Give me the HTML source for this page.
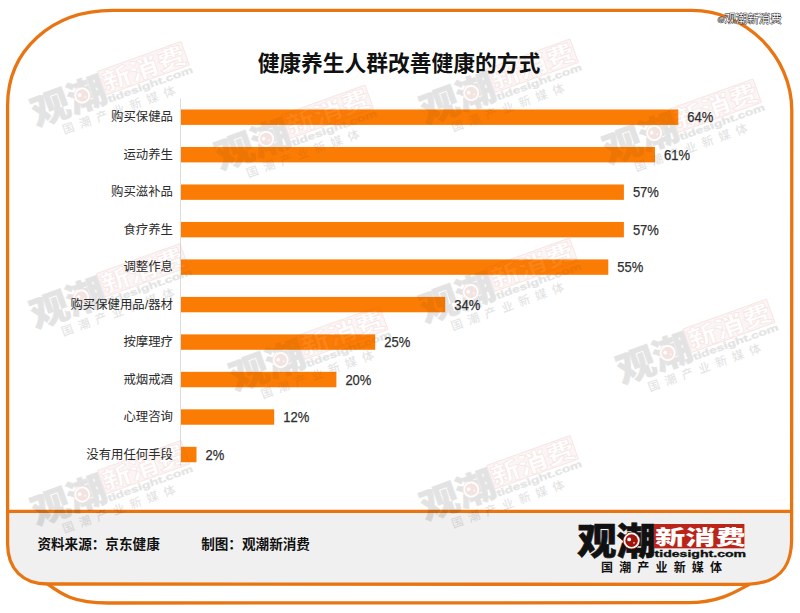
<!DOCTYPE html>
<html lang="zh-CN">
<head>
<meta charset="utf-8">
<title>健康养生人群改善健康的方式</title>
<style>
html,body{margin:0;padding:0;background:#fff;}
body{width:800px;height:613px;overflow:hidden;font-family:"Liberation Sans", "Noto Sans CJK SC", sans-serif;}
svg{display:block;}
svg text{font-family:"Liberation Sans", "Noto Sans CJK SC", sans-serif;}
</style>
</head>
<body>
<svg width="800" height="613" viewBox="0 0 800 613">
<rect width="800" height="613" fill="#fff"/>
<!-- shadow card outline -->
<path d="M47.8 584.2 C 61.7 594.5, 73.9 603, 108 603 L 688 602.7 C 718.7 602.7, 736.1 591.8, 749.5 584.2" fill="none" stroke="#e87512" stroke-width="3.3"/>
<!-- main card -->
<path d="M112.6 10.45 L691.8 10.45 C745.8 10.45 791.8 56.45 791.8 110.45 L791.6 539.4 C791.6 570 776.4 584.4 744.1 584.4 L47.6 584 C22.8 584 7.6 568.8 7.6 544 L7.6 105.45 C7.6 50.35 51.7 10.45 112.6 10.45 Z" fill="#fff"/>
<!-- footer -->
<path d="M7.6 511.4 L791.6 511.4 L791.6 539.4 C791.6 570 776.4 584.4 744.1 584.4 L47.6 584 C22.8 584 7.6 568.8 7.6 544 Z" fill="#f0f0f0"/>
<path d="M112.6 10.45 L691.8 10.45 C745.8 10.45 791.8 56.45 791.8 110.45 L791.6 539.4 C791.6 570 776.4 584.4 744.1 584.4 L47.6 584 C22.8 584 7.6 568.8 7.6 544 L7.6 105.45 C7.6 50.35 51.7 10.45 112.6 10.45 Z" fill="none" stroke="#e87512" stroke-width="3.3"/>
<line x1="7.6" y1="511.4" x2="791.6" y2="511.4" stroke="#e87512" stroke-width="3.2"/>
<!-- watermarks (under bars) -->
<g transform="translate(27 98) rotate(-19.8) scale(0.985)" opacity="0.052">
<text x="-0.7" y="30.8" font-weight="900" font-size="37" textLength="78.6" lengthAdjust="spacingAndGlyphs" fill="#111" stroke="#111" stroke-width="0.6">观潮</text>
<circle cx="53.6" cy="16.6" r="8.7" fill="#a81a12"/>
<circle cx="53.6" cy="16.6" r="8" fill="#fff"/>
<circle cx="53.6" cy="16.6" r="6.3" fill="#a11409"/>
<circle cx="51.2" cy="15.4" r="1.9" fill="#fff"/>
<circle cx="56" cy="18.8" r="0.9" fill="#f3c9c0"/>
<rect x="76.5" y="-1" width="90" height="25.3" fill="#bb2418" fill-opacity="0.35" stroke="#bb2418" stroke-width="0.9"/>
<text x="77.8" y="20.9" font-weight="900" font-size="24" textLength="88" lengthAdjust="spacingAndGlyphs" fill="#fff" stroke="#bb2418" stroke-width="0.7">新消费</text>
<text x="76.6" y="32.7" font-family='"Liberation Sans", sans-serif' font-weight="bold" font-size="9.6" textLength="91.5" lengthAdjust="spacingAndGlyphs" fill="#111" stroke="#111" stroke-width="0.35">tidesight.com</text>
<text x="23" y="47.5" font-weight="500" font-size="12" textLength="121" lengthAdjust="spacing" fill="#111">国潮产业新媒体</text>
</g>
<g transform="translate(416 95.5) rotate(-19.8) scale(0.985)" opacity="0.052">
<text x="-0.7" y="30.8" font-weight="900" font-size="37" textLength="78.6" lengthAdjust="spacingAndGlyphs" fill="#111" stroke="#111" stroke-width="0.6">观潮</text>
<circle cx="53.6" cy="16.6" r="8.7" fill="#a81a12"/>
<circle cx="53.6" cy="16.6" r="8" fill="#fff"/>
<circle cx="53.6" cy="16.6" r="6.3" fill="#a11409"/>
<circle cx="51.2" cy="15.4" r="1.9" fill="#fff"/>
<circle cx="56" cy="18.8" r="0.9" fill="#f3c9c0"/>
<rect x="76.5" y="-1" width="90" height="25.3" fill="#bb2418" fill-opacity="0.35" stroke="#bb2418" stroke-width="0.9"/>
<text x="77.8" y="20.9" font-weight="900" font-size="24" textLength="88" lengthAdjust="spacingAndGlyphs" fill="#fff" stroke="#bb2418" stroke-width="0.7">新消费</text>
<text x="76.6" y="32.7" font-family='"Liberation Sans", sans-serif' font-weight="bold" font-size="9.6" textLength="91.5" lengthAdjust="spacingAndGlyphs" fill="#111" stroke="#111" stroke-width="0.35">tidesight.com</text>
<text x="23" y="47.5" font-weight="500" font-size="12" textLength="121" lengthAdjust="spacing" fill="#111">国潮产业新媒体</text>
</g>
<g transform="translate(211 141.5) rotate(-19.8) scale(0.985)" opacity="0.052">
<text x="-0.7" y="30.8" font-weight="900" font-size="37" textLength="78.6" lengthAdjust="spacingAndGlyphs" fill="#111" stroke="#111" stroke-width="0.6">观潮</text>
<circle cx="53.6" cy="16.6" r="8.7" fill="#a81a12"/>
<circle cx="53.6" cy="16.6" r="8" fill="#fff"/>
<circle cx="53.6" cy="16.6" r="6.3" fill="#a11409"/>
<circle cx="51.2" cy="15.4" r="1.9" fill="#fff"/>
<circle cx="56" cy="18.8" r="0.9" fill="#f3c9c0"/>
<rect x="76.5" y="-1" width="90" height="25.3" fill="#bb2418" fill-opacity="0.35" stroke="#bb2418" stroke-width="0.9"/>
<text x="77.8" y="20.9" font-weight="900" font-size="24" textLength="88" lengthAdjust="spacingAndGlyphs" fill="#fff" stroke="#bb2418" stroke-width="0.7">新消费</text>
<text x="76.6" y="32.7" font-family='"Liberation Sans", sans-serif' font-weight="bold" font-size="9.6" textLength="91.5" lengthAdjust="spacingAndGlyphs" fill="#111" stroke="#111" stroke-width="0.35">tidesight.com</text>
<text x="23" y="47.5" font-weight="500" font-size="12" textLength="121" lengthAdjust="spacing" fill="#111">国潮产业新媒体</text>
</g>
<g transform="translate(599 135.5) rotate(-19.8) scale(0.985)" opacity="0.052">
<text x="-0.7" y="30.8" font-weight="900" font-size="37" textLength="78.6" lengthAdjust="spacingAndGlyphs" fill="#111" stroke="#111" stroke-width="0.6">观潮</text>
<circle cx="53.6" cy="16.6" r="8.7" fill="#a81a12"/>
<circle cx="53.6" cy="16.6" r="8" fill="#fff"/>
<circle cx="53.6" cy="16.6" r="6.3" fill="#a11409"/>
<circle cx="51.2" cy="15.4" r="1.9" fill="#fff"/>
<circle cx="56" cy="18.8" r="0.9" fill="#f3c9c0"/>
<rect x="76.5" y="-1" width="90" height="25.3" fill="#bb2418" fill-opacity="0.35" stroke="#bb2418" stroke-width="0.9"/>
<text x="77.8" y="20.9" font-weight="900" font-size="24" textLength="88" lengthAdjust="spacingAndGlyphs" fill="#fff" stroke="#bb2418" stroke-width="0.7">新消费</text>
<text x="76.6" y="32.7" font-family='"Liberation Sans", sans-serif' font-weight="bold" font-size="9.6" textLength="91.5" lengthAdjust="spacingAndGlyphs" fill="#111" stroke="#111" stroke-width="0.35">tidesight.com</text>
<text x="23" y="47.5" font-weight="500" font-size="12" textLength="121" lengthAdjust="spacing" fill="#111">国潮产业新媒体</text>
</g>
<g transform="translate(26 300) rotate(-19.8) scale(0.985)" opacity="0.052">
<text x="-0.7" y="30.8" font-weight="900" font-size="37" textLength="78.6" lengthAdjust="spacingAndGlyphs" fill="#111" stroke="#111" stroke-width="0.6">观潮</text>
<circle cx="53.6" cy="16.6" r="8.7" fill="#a81a12"/>
<circle cx="53.6" cy="16.6" r="8" fill="#fff"/>
<circle cx="53.6" cy="16.6" r="6.3" fill="#a11409"/>
<circle cx="51.2" cy="15.4" r="1.9" fill="#fff"/>
<circle cx="56" cy="18.8" r="0.9" fill="#f3c9c0"/>
<rect x="76.5" y="-1" width="90" height="25.3" fill="#bb2418" fill-opacity="0.35" stroke="#bb2418" stroke-width="0.9"/>
<text x="77.8" y="20.9" font-weight="900" font-size="24" textLength="88" lengthAdjust="spacingAndGlyphs" fill="#fff" stroke="#bb2418" stroke-width="0.7">新消费</text>
<text x="76.6" y="32.7" font-family='"Liberation Sans", sans-serif' font-weight="bold" font-size="9.6" textLength="91.5" lengthAdjust="spacingAndGlyphs" fill="#111" stroke="#111" stroke-width="0.35">tidesight.com</text>
<text x="23" y="47.5" font-weight="500" font-size="12" textLength="121" lengthAdjust="spacing" fill="#111">国潮产业新媒体</text>
</g>
<g transform="translate(415.5 294.5) rotate(-19.8) scale(0.985)" opacity="0.052">
<text x="-0.7" y="30.8" font-weight="900" font-size="37" textLength="78.6" lengthAdjust="spacingAndGlyphs" fill="#111" stroke="#111" stroke-width="0.6">观潮</text>
<circle cx="53.6" cy="16.6" r="8.7" fill="#a81a12"/>
<circle cx="53.6" cy="16.6" r="8" fill="#fff"/>
<circle cx="53.6" cy="16.6" r="6.3" fill="#a11409"/>
<circle cx="51.2" cy="15.4" r="1.9" fill="#fff"/>
<circle cx="56" cy="18.8" r="0.9" fill="#f3c9c0"/>
<rect x="76.5" y="-1" width="90" height="25.3" fill="#bb2418" fill-opacity="0.35" stroke="#bb2418" stroke-width="0.9"/>
<text x="77.8" y="20.9" font-weight="900" font-size="24" textLength="88" lengthAdjust="spacingAndGlyphs" fill="#fff" stroke="#bb2418" stroke-width="0.7">新消费</text>
<text x="76.6" y="32.7" font-family='"Liberation Sans", sans-serif' font-weight="bold" font-size="9.6" textLength="91.5" lengthAdjust="spacingAndGlyphs" fill="#111" stroke="#111" stroke-width="0.35">tidesight.com</text>
<text x="23" y="47.5" font-weight="500" font-size="12" textLength="121" lengthAdjust="spacing" fill="#111">国潮产业新媒体</text>
</g>
<g transform="translate(225.5 362.5) rotate(-19.8) scale(0.985)" opacity="0.052">
<text x="-0.7" y="30.8" font-weight="900" font-size="37" textLength="78.6" lengthAdjust="spacingAndGlyphs" fill="#111" stroke="#111" stroke-width="0.6">观潮</text>
<circle cx="53.6" cy="16.6" r="8.7" fill="#a81a12"/>
<circle cx="53.6" cy="16.6" r="8" fill="#fff"/>
<circle cx="53.6" cy="16.6" r="6.3" fill="#a11409"/>
<circle cx="51.2" cy="15.4" r="1.9" fill="#fff"/>
<circle cx="56" cy="18.8" r="0.9" fill="#f3c9c0"/>
<rect x="76.5" y="-1" width="90" height="25.3" fill="#bb2418" fill-opacity="0.35" stroke="#bb2418" stroke-width="0.9"/>
<text x="77.8" y="20.9" font-weight="900" font-size="24" textLength="88" lengthAdjust="spacingAndGlyphs" fill="#fff" stroke="#bb2418" stroke-width="0.7">新消费</text>
<text x="76.6" y="32.7" font-family='"Liberation Sans", sans-serif' font-weight="bold" font-size="9.6" textLength="91.5" lengthAdjust="spacingAndGlyphs" fill="#111" stroke="#111" stroke-width="0.35">tidesight.com</text>
<text x="23" y="47.5" font-weight="500" font-size="12" textLength="121" lengthAdjust="spacing" fill="#111">国潮产业新媒体</text>
</g>
<g transform="translate(612.5 355.5) rotate(-19.8) scale(0.985)" opacity="0.052">
<text x="-0.7" y="30.8" font-weight="900" font-size="37" textLength="78.6" lengthAdjust="spacingAndGlyphs" fill="#111" stroke="#111" stroke-width="0.6">观潮</text>
<circle cx="53.6" cy="16.6" r="8.7" fill="#a81a12"/>
<circle cx="53.6" cy="16.6" r="8" fill="#fff"/>
<circle cx="53.6" cy="16.6" r="6.3" fill="#a11409"/>
<circle cx="51.2" cy="15.4" r="1.9" fill="#fff"/>
<circle cx="56" cy="18.8" r="0.9" fill="#f3c9c0"/>
<rect x="76.5" y="-1" width="90" height="25.3" fill="#bb2418" fill-opacity="0.35" stroke="#bb2418" stroke-width="0.9"/>
<text x="77.8" y="20.9" font-weight="900" font-size="24" textLength="88" lengthAdjust="spacingAndGlyphs" fill="#fff" stroke="#bb2418" stroke-width="0.7">新消费</text>
<text x="76.6" y="32.7" font-family='"Liberation Sans", sans-serif' font-weight="bold" font-size="9.6" textLength="91.5" lengthAdjust="spacingAndGlyphs" fill="#111" stroke="#111" stroke-width="0.35">tidesight.com</text>
<text x="23" y="47.5" font-weight="500" font-size="12" textLength="121" lengthAdjust="spacing" fill="#111">国潮产业新媒体</text>
</g>
<g transform="translate(27 497) rotate(-19.8) scale(0.985)" opacity="0.052">
<text x="-0.7" y="30.8" font-weight="900" font-size="37" textLength="78.6" lengthAdjust="spacingAndGlyphs" fill="#111" stroke="#111" stroke-width="0.6">观潮</text>
<circle cx="53.6" cy="16.6" r="8.7" fill="#a81a12"/>
<circle cx="53.6" cy="16.6" r="8" fill="#fff"/>
<circle cx="53.6" cy="16.6" r="6.3" fill="#a11409"/>
<circle cx="51.2" cy="15.4" r="1.9" fill="#fff"/>
<circle cx="56" cy="18.8" r="0.9" fill="#f3c9c0"/>
<rect x="76.5" y="-1" width="90" height="25.3" fill="#bb2418" fill-opacity="0.35" stroke="#bb2418" stroke-width="0.9"/>
<text x="77.8" y="20.9" font-weight="900" font-size="24" textLength="88" lengthAdjust="spacingAndGlyphs" fill="#fff" stroke="#bb2418" stroke-width="0.7">新消费</text>
<text x="76.6" y="32.7" font-family='"Liberation Sans", sans-serif' font-weight="bold" font-size="9.6" textLength="91.5" lengthAdjust="spacingAndGlyphs" fill="#111" stroke="#111" stroke-width="0.35">tidesight.com</text>
<text x="23" y="47.5" font-weight="500" font-size="12" textLength="121" lengthAdjust="spacing" fill="#111">国潮产业新媒体</text>
</g>
<g transform="translate(416 492) rotate(-19.8) scale(0.985)" opacity="0.052">
<text x="-0.7" y="30.8" font-weight="900" font-size="37" textLength="78.6" lengthAdjust="spacingAndGlyphs" fill="#111" stroke="#111" stroke-width="0.6">观潮</text>
<circle cx="53.6" cy="16.6" r="8.7" fill="#a81a12"/>
<circle cx="53.6" cy="16.6" r="8" fill="#fff"/>
<circle cx="53.6" cy="16.6" r="6.3" fill="#a11409"/>
<circle cx="51.2" cy="15.4" r="1.9" fill="#fff"/>
<circle cx="56" cy="18.8" r="0.9" fill="#f3c9c0"/>
<rect x="76.5" y="-1" width="90" height="25.3" fill="#bb2418" fill-opacity="0.35" stroke="#bb2418" stroke-width="0.9"/>
<text x="77.8" y="20.9" font-weight="900" font-size="24" textLength="88" lengthAdjust="spacingAndGlyphs" fill="#fff" stroke="#bb2418" stroke-width="0.7">新消费</text>
<text x="76.6" y="32.7" font-family='"Liberation Sans", sans-serif' font-weight="bold" font-size="9.6" textLength="91.5" lengthAdjust="spacingAndGlyphs" fill="#111" stroke="#111" stroke-width="0.35">tidesight.com</text>
<text x="23" y="47.5" font-weight="500" font-size="12" textLength="121" lengthAdjust="spacing" fill="#111">国潮产业新媒体</text>
</g>
<!-- axis -->
<line x1="180.5" y1="98.5" x2="180.5" y2="466" stroke="#dcdcdc" stroke-width="1"/>
<rect x="181.0" y="109.50" width="497.3" height="15.4" fill="#fb7c04"/>
<rect x="181.0" y="146.98" width="474.0" height="15.4" fill="#fb7c04"/>
<rect x="181.0" y="184.46" width="442.9" height="15.4" fill="#fb7c04"/>
<rect x="181.0" y="221.94" width="442.9" height="15.4" fill="#fb7c04"/>
<rect x="181.0" y="259.42" width="427.3" height="15.4" fill="#fb7c04"/>
<rect x="181.0" y="296.90" width="264.2" height="15.4" fill="#fb7c04"/>
<rect x="181.0" y="334.38" width="194.2" height="15.4" fill="#fb7c04"/>
<rect x="181.0" y="371.86" width="155.4" height="15.4" fill="#fb7c04"/>
<rect x="181.0" y="409.34" width="93.2" height="15.4" fill="#fb7c04"/>
<rect x="181.0" y="446.82" width="15.5" height="15.4" fill="#fb7c04"/>
<!-- watermarks -->
<g transform="translate(27 98) rotate(-19.8) scale(0.985)" opacity="0.058">
<text x="-0.7" y="30.8" font-weight="900" font-size="37" textLength="78.6" lengthAdjust="spacingAndGlyphs" fill="#111" stroke="#111" stroke-width="0.6">观潮</text>
<circle cx="53.6" cy="16.6" r="8.7" fill="#a81a12"/>
<circle cx="53.6" cy="16.6" r="8" fill="#fff"/>
<circle cx="53.6" cy="16.6" r="6.3" fill="#a11409"/>
<circle cx="51.2" cy="15.4" r="1.9" fill="#fff"/>
<circle cx="56" cy="18.8" r="0.9" fill="#f3c9c0"/>
<rect x="76.5" y="-1" width="90" height="25.3" fill="#bb2418" fill-opacity="0.35" stroke="#bb2418" stroke-width="0.9"/>
<text x="77.8" y="20.9" font-weight="900" font-size="24" textLength="88" lengthAdjust="spacingAndGlyphs" fill="#fff" stroke="#bb2418" stroke-width="0.7">新消费</text>
<text x="76.6" y="32.7" font-family='"Liberation Sans", sans-serif' font-weight="bold" font-size="9.6" textLength="91.5" lengthAdjust="spacingAndGlyphs" fill="#111" stroke="#111" stroke-width="0.35">tidesight.com</text>
<text x="23" y="47.5" font-weight="500" font-size="12" textLength="121" lengthAdjust="spacing" fill="#111">国潮产业新媒体</text>
</g>
<g transform="translate(416 95.5) rotate(-19.8) scale(0.985)" opacity="0.058">
<text x="-0.7" y="30.8" font-weight="900" font-size="37" textLength="78.6" lengthAdjust="spacingAndGlyphs" fill="#111" stroke="#111" stroke-width="0.6">观潮</text>
<circle cx="53.6" cy="16.6" r="8.7" fill="#a81a12"/>
<circle cx="53.6" cy="16.6" r="8" fill="#fff"/>
<circle cx="53.6" cy="16.6" r="6.3" fill="#a11409"/>
<circle cx="51.2" cy="15.4" r="1.9" fill="#fff"/>
<circle cx="56" cy="18.8" r="0.9" fill="#f3c9c0"/>
<rect x="76.5" y="-1" width="90" height="25.3" fill="#bb2418" fill-opacity="0.35" stroke="#bb2418" stroke-width="0.9"/>
<text x="77.8" y="20.9" font-weight="900" font-size="24" textLength="88" lengthAdjust="spacingAndGlyphs" fill="#fff" stroke="#bb2418" stroke-width="0.7">新消费</text>
<text x="76.6" y="32.7" font-family='"Liberation Sans", sans-serif' font-weight="bold" font-size="9.6" textLength="91.5" lengthAdjust="spacingAndGlyphs" fill="#111" stroke="#111" stroke-width="0.35">tidesight.com</text>
<text x="23" y="47.5" font-weight="500" font-size="12" textLength="121" lengthAdjust="spacing" fill="#111">国潮产业新媒体</text>
</g>
<g transform="translate(211 141.5) rotate(-19.8) scale(0.985)" opacity="0.058">
<text x="-0.7" y="30.8" font-weight="900" font-size="37" textLength="78.6" lengthAdjust="spacingAndGlyphs" fill="#111" stroke="#111" stroke-width="0.6">观潮</text>
<circle cx="53.6" cy="16.6" r="8.7" fill="#a81a12"/>
<circle cx="53.6" cy="16.6" r="8" fill="#fff"/>
<circle cx="53.6" cy="16.6" r="6.3" fill="#a11409"/>
<circle cx="51.2" cy="15.4" r="1.9" fill="#fff"/>
<circle cx="56" cy="18.8" r="0.9" fill="#f3c9c0"/>
<rect x="76.5" y="-1" width="90" height="25.3" fill="#bb2418" fill-opacity="0.35" stroke="#bb2418" stroke-width="0.9"/>
<text x="77.8" y="20.9" font-weight="900" font-size="24" textLength="88" lengthAdjust="spacingAndGlyphs" fill="#fff" stroke="#bb2418" stroke-width="0.7">新消费</text>
<text x="76.6" y="32.7" font-family='"Liberation Sans", sans-serif' font-weight="bold" font-size="9.6" textLength="91.5" lengthAdjust="spacingAndGlyphs" fill="#111" stroke="#111" stroke-width="0.35">tidesight.com</text>
<text x="23" y="47.5" font-weight="500" font-size="12" textLength="121" lengthAdjust="spacing" fill="#111">国潮产业新媒体</text>
</g>
<g transform="translate(599 135.5) rotate(-19.8) scale(0.985)" opacity="0.058">
<text x="-0.7" y="30.8" font-weight="900" font-size="37" textLength="78.6" lengthAdjust="spacingAndGlyphs" fill="#111" stroke="#111" stroke-width="0.6">观潮</text>
<circle cx="53.6" cy="16.6" r="8.7" fill="#a81a12"/>
<circle cx="53.6" cy="16.6" r="8" fill="#fff"/>
<circle cx="53.6" cy="16.6" r="6.3" fill="#a11409"/>
<circle cx="51.2" cy="15.4" r="1.9" fill="#fff"/>
<circle cx="56" cy="18.8" r="0.9" fill="#f3c9c0"/>
<rect x="76.5" y="-1" width="90" height="25.3" fill="#bb2418" fill-opacity="0.35" stroke="#bb2418" stroke-width="0.9"/>
<text x="77.8" y="20.9" font-weight="900" font-size="24" textLength="88" lengthAdjust="spacingAndGlyphs" fill="#fff" stroke="#bb2418" stroke-width="0.7">新消费</text>
<text x="76.6" y="32.7" font-family='"Liberation Sans", sans-serif' font-weight="bold" font-size="9.6" textLength="91.5" lengthAdjust="spacingAndGlyphs" fill="#111" stroke="#111" stroke-width="0.35">tidesight.com</text>
<text x="23" y="47.5" font-weight="500" font-size="12" textLength="121" lengthAdjust="spacing" fill="#111">国潮产业新媒体</text>
</g>
<g transform="translate(26 300) rotate(-19.8) scale(0.985)" opacity="0.058">
<text x="-0.7" y="30.8" font-weight="900" font-size="37" textLength="78.6" lengthAdjust="spacingAndGlyphs" fill="#111" stroke="#111" stroke-width="0.6">观潮</text>
<circle cx="53.6" cy="16.6" r="8.7" fill="#a81a12"/>
<circle cx="53.6" cy="16.6" r="8" fill="#fff"/>
<circle cx="53.6" cy="16.6" r="6.3" fill="#a11409"/>
<circle cx="51.2" cy="15.4" r="1.9" fill="#fff"/>
<circle cx="56" cy="18.8" r="0.9" fill="#f3c9c0"/>
<rect x="76.5" y="-1" width="90" height="25.3" fill="#bb2418" fill-opacity="0.35" stroke="#bb2418" stroke-width="0.9"/>
<text x="77.8" y="20.9" font-weight="900" font-size="24" textLength="88" lengthAdjust="spacingAndGlyphs" fill="#fff" stroke="#bb2418" stroke-width="0.7">新消费</text>
<text x="76.6" y="32.7" font-family='"Liberation Sans", sans-serif' font-weight="bold" font-size="9.6" textLength="91.5" lengthAdjust="spacingAndGlyphs" fill="#111" stroke="#111" stroke-width="0.35">tidesight.com</text>
<text x="23" y="47.5" font-weight="500" font-size="12" textLength="121" lengthAdjust="spacing" fill="#111">国潮产业新媒体</text>
</g>
<g transform="translate(415.5 294.5) rotate(-19.8) scale(0.985)" opacity="0.058">
<text x="-0.7" y="30.8" font-weight="900" font-size="37" textLength="78.6" lengthAdjust="spacingAndGlyphs" fill="#111" stroke="#111" stroke-width="0.6">观潮</text>
<circle cx="53.6" cy="16.6" r="8.7" fill="#a81a12"/>
<circle cx="53.6" cy="16.6" r="8" fill="#fff"/>
<circle cx="53.6" cy="16.6" r="6.3" fill="#a11409"/>
<circle cx="51.2" cy="15.4" r="1.9" fill="#fff"/>
<circle cx="56" cy="18.8" r="0.9" fill="#f3c9c0"/>
<rect x="76.5" y="-1" width="90" height="25.3" fill="#bb2418" fill-opacity="0.35" stroke="#bb2418" stroke-width="0.9"/>
<text x="77.8" y="20.9" font-weight="900" font-size="24" textLength="88" lengthAdjust="spacingAndGlyphs" fill="#fff" stroke="#bb2418" stroke-width="0.7">新消费</text>
<text x="76.6" y="32.7" font-family='"Liberation Sans", sans-serif' font-weight="bold" font-size="9.6" textLength="91.5" lengthAdjust="spacingAndGlyphs" fill="#111" stroke="#111" stroke-width="0.35">tidesight.com</text>
<text x="23" y="47.5" font-weight="500" font-size="12" textLength="121" lengthAdjust="spacing" fill="#111">国潮产业新媒体</text>
</g>
<g transform="translate(225.5 362.5) rotate(-19.8) scale(0.985)" opacity="0.058">
<text x="-0.7" y="30.8" font-weight="900" font-size="37" textLength="78.6" lengthAdjust="spacingAndGlyphs" fill="#111" stroke="#111" stroke-width="0.6">观潮</text>
<circle cx="53.6" cy="16.6" r="8.7" fill="#a81a12"/>
<circle cx="53.6" cy="16.6" r="8" fill="#fff"/>
<circle cx="53.6" cy="16.6" r="6.3" fill="#a11409"/>
<circle cx="51.2" cy="15.4" r="1.9" fill="#fff"/>
<circle cx="56" cy="18.8" r="0.9" fill="#f3c9c0"/>
<rect x="76.5" y="-1" width="90" height="25.3" fill="#bb2418" fill-opacity="0.35" stroke="#bb2418" stroke-width="0.9"/>
<text x="77.8" y="20.9" font-weight="900" font-size="24" textLength="88" lengthAdjust="spacingAndGlyphs" fill="#fff" stroke="#bb2418" stroke-width="0.7">新消费</text>
<text x="76.6" y="32.7" font-family='"Liberation Sans", sans-serif' font-weight="bold" font-size="9.6" textLength="91.5" lengthAdjust="spacingAndGlyphs" fill="#111" stroke="#111" stroke-width="0.35">tidesight.com</text>
<text x="23" y="47.5" font-weight="500" font-size="12" textLength="121" lengthAdjust="spacing" fill="#111">国潮产业新媒体</text>
</g>
<g transform="translate(612.5 355.5) rotate(-19.8) scale(0.985)" opacity="0.058">
<text x="-0.7" y="30.8" font-weight="900" font-size="37" textLength="78.6" lengthAdjust="spacingAndGlyphs" fill="#111" stroke="#111" stroke-width="0.6">观潮</text>
<circle cx="53.6" cy="16.6" r="8.7" fill="#a81a12"/>
<circle cx="53.6" cy="16.6" r="8" fill="#fff"/>
<circle cx="53.6" cy="16.6" r="6.3" fill="#a11409"/>
<circle cx="51.2" cy="15.4" r="1.9" fill="#fff"/>
<circle cx="56" cy="18.8" r="0.9" fill="#f3c9c0"/>
<rect x="76.5" y="-1" width="90" height="25.3" fill="#bb2418" fill-opacity="0.35" stroke="#bb2418" stroke-width="0.9"/>
<text x="77.8" y="20.9" font-weight="900" font-size="24" textLength="88" lengthAdjust="spacingAndGlyphs" fill="#fff" stroke="#bb2418" stroke-width="0.7">新消费</text>
<text x="76.6" y="32.7" font-family='"Liberation Sans", sans-serif' font-weight="bold" font-size="9.6" textLength="91.5" lengthAdjust="spacingAndGlyphs" fill="#111" stroke="#111" stroke-width="0.35">tidesight.com</text>
<text x="23" y="47.5" font-weight="500" font-size="12" textLength="121" lengthAdjust="spacing" fill="#111">国潮产业新媒体</text>
</g>
<g transform="translate(27 497) rotate(-19.8) scale(0.985)" opacity="0.058">
<text x="-0.7" y="30.8" font-weight="900" font-size="37" textLength="78.6" lengthAdjust="spacingAndGlyphs" fill="#111" stroke="#111" stroke-width="0.6">观潮</text>
<circle cx="53.6" cy="16.6" r="8.7" fill="#a81a12"/>
<circle cx="53.6" cy="16.6" r="8" fill="#fff"/>
<circle cx="53.6" cy="16.6" r="6.3" fill="#a11409"/>
<circle cx="51.2" cy="15.4" r="1.9" fill="#fff"/>
<circle cx="56" cy="18.8" r="0.9" fill="#f3c9c0"/>
<rect x="76.5" y="-1" width="90" height="25.3" fill="#bb2418" fill-opacity="0.35" stroke="#bb2418" stroke-width="0.9"/>
<text x="77.8" y="20.9" font-weight="900" font-size="24" textLength="88" lengthAdjust="spacingAndGlyphs" fill="#fff" stroke="#bb2418" stroke-width="0.7">新消费</text>
<text x="76.6" y="32.7" font-family='"Liberation Sans", sans-serif' font-weight="bold" font-size="9.6" textLength="91.5" lengthAdjust="spacingAndGlyphs" fill="#111" stroke="#111" stroke-width="0.35">tidesight.com</text>
<text x="23" y="47.5" font-weight="500" font-size="12" textLength="121" lengthAdjust="spacing" fill="#111">国潮产业新媒体</text>
</g>
<g transform="translate(416 492) rotate(-19.8) scale(0.985)" opacity="0.058">
<text x="-0.7" y="30.8" font-weight="900" font-size="37" textLength="78.6" lengthAdjust="spacingAndGlyphs" fill="#111" stroke="#111" stroke-width="0.6">观潮</text>
<circle cx="53.6" cy="16.6" r="8.7" fill="#a81a12"/>
<circle cx="53.6" cy="16.6" r="8" fill="#fff"/>
<circle cx="53.6" cy="16.6" r="6.3" fill="#a11409"/>
<circle cx="51.2" cy="15.4" r="1.9" fill="#fff"/>
<circle cx="56" cy="18.8" r="0.9" fill="#f3c9c0"/>
<rect x="76.5" y="-1" width="90" height="25.3" fill="#bb2418" fill-opacity="0.35" stroke="#bb2418" stroke-width="0.9"/>
<text x="77.8" y="20.9" font-weight="900" font-size="24" textLength="88" lengthAdjust="spacingAndGlyphs" fill="#fff" stroke="#bb2418" stroke-width="0.7">新消费</text>
<text x="76.6" y="32.7" font-family='"Liberation Sans", sans-serif' font-weight="bold" font-size="9.6" textLength="91.5" lengthAdjust="spacingAndGlyphs" fill="#111" stroke="#111" stroke-width="0.35">tidesight.com</text>
<text x="23" y="47.5" font-weight="500" font-size="12" textLength="121" lengthAdjust="spacing" fill="#111">国潮产业新媒体</text>
</g>
<!-- title -->
<text x="399" y="71.3" text-anchor="middle" font-weight="bold" font-size="21.75" fill="#111">健康养生人群改善健康的方式</text>
<text x="173" y="121.40" text-anchor="end" font-size="12.4" fill="#2b2b2b">购买保健品</text>
<text x="687.3" y="122.20" font-size="15" textLength="26.0" lengthAdjust="spacingAndGlyphs" fill="#2e2e2e" stroke="#2e2e2e" stroke-width="0.25">64%</text>
<text x="173" y="158.88" text-anchor="end" font-size="12.4" fill="#2b2b2b">运动养生</text>
<text x="664.0" y="159.68" font-size="15" textLength="26.0" lengthAdjust="spacingAndGlyphs" fill="#2e2e2e" stroke="#2e2e2e" stroke-width="0.25">61%</text>
<text x="173" y="196.36" text-anchor="end" font-size="12.4" fill="#2b2b2b">购买滋补品</text>
<text x="632.9" y="197.16" font-size="15" textLength="26.0" lengthAdjust="spacingAndGlyphs" fill="#2e2e2e" stroke="#2e2e2e" stroke-width="0.25">57%</text>
<text x="173" y="233.84" text-anchor="end" font-size="12.4" fill="#2b2b2b">食疗养生</text>
<text x="632.9" y="234.64" font-size="15" textLength="26.0" lengthAdjust="spacingAndGlyphs" fill="#2e2e2e" stroke="#2e2e2e" stroke-width="0.25">57%</text>
<text x="173" y="271.32" text-anchor="end" font-size="12.4" fill="#2b2b2b">调整作息</text>
<text x="617.3" y="272.12" font-size="15" textLength="26.0" lengthAdjust="spacingAndGlyphs" fill="#2e2e2e" stroke="#2e2e2e" stroke-width="0.25">55%</text>
<text x="173" y="308.80" text-anchor="end" font-size="12.4" fill="#2b2b2b">购买保健用品/器材</text>
<text x="454.2" y="309.60" font-size="15" textLength="26.0" lengthAdjust="spacingAndGlyphs" fill="#2e2e2e" stroke="#2e2e2e" stroke-width="0.25">34%</text>
<text x="173" y="346.28" text-anchor="end" font-size="12.4" fill="#2b2b2b">按摩理疗</text>
<text x="384.2" y="347.08" font-size="15" textLength="26.0" lengthAdjust="spacingAndGlyphs" fill="#2e2e2e" stroke="#2e2e2e" stroke-width="0.25">25%</text>
<text x="173" y="383.76" text-anchor="end" font-size="12.4" fill="#2b2b2b">戒烟戒酒</text>
<text x="345.4" y="384.56" font-size="15" textLength="26.0" lengthAdjust="spacingAndGlyphs" fill="#2e2e2e" stroke="#2e2e2e" stroke-width="0.25">20%</text>
<text x="173" y="421.24" text-anchor="end" font-size="12.4" fill="#2b2b2b">心理咨询</text>
<text x="283.2" y="422.04" font-size="15" textLength="26.0" lengthAdjust="spacingAndGlyphs" fill="#2e2e2e" stroke="#2e2e2e" stroke-width="0.25">12%</text>
<text x="173" y="458.72" text-anchor="end" font-size="12.4" fill="#2b2b2b">没有用任何手段</text>
<text x="205.5" y="459.52" font-size="15" textLength="18.8" lengthAdjust="spacingAndGlyphs" fill="#2e2e2e" stroke="#2e2e2e" stroke-width="0.25">2%</text>
<!-- footer text -->
<text x="37.4" y="549" font-weight="bold" font-size="13.6" fill="#111">资料来源：京东健康</text>
<text x="201.2" y="549" font-weight="bold" font-size="13.6" fill="#111">制图：观潮新消费</text>
<g transform="translate(578 524)">
<text x="-0.7" y="30.8" font-weight="900" font-size="37" textLength="78.6" lengthAdjust="spacingAndGlyphs" fill="#111" stroke="#111" stroke-width="0.6">观潮</text>
<circle cx="53.6" cy="16.6" r="8.7" fill="#a81a12"/>
<circle cx="53.6" cy="16.6" r="8" fill="#fff"/>
<circle cx="53.6" cy="16.6" r="6.3" fill="#a11409"/>
<circle cx="51.2" cy="15.4" r="1.9" fill="#fff"/>
<circle cx="56" cy="18.8" r="0.9" fill="#f3c9c0"/>
<rect x="76" y="0" width="90.4" height="24.3" fill="#bb2418"/>
<text x="77.1" y="20.7" font-weight="900" font-size="20.3" textLength="90.8" lengthAdjust="spacingAndGlyphs" fill="#fff">新消费</text>
<text x="76.6" y="32.7" font-family='"Liberation Sans", sans-serif' font-weight="bold" font-size="9.6" textLength="91.5" lengthAdjust="spacingAndGlyphs" fill="#111" stroke="#111" stroke-width="0.35">tidesight.com</text>
<text x="23" y="47.5" font-weight="bold" font-size="12" textLength="121" lengthAdjust="spacing" fill="#111">国潮产业新媒体</text>
</g>
<!-- weibo mark -->
<text x="717.5" y="22.8" font-size="11.4" fill="#fff" stroke="#222" stroke-width="0.9" paint-order="stroke" stroke-linejoin="round"><tspan font-size="7" dy="-1">@</tspan><tspan dy="1.6">观潮新消费</tspan></text>
</svg>
</body>
</html>
